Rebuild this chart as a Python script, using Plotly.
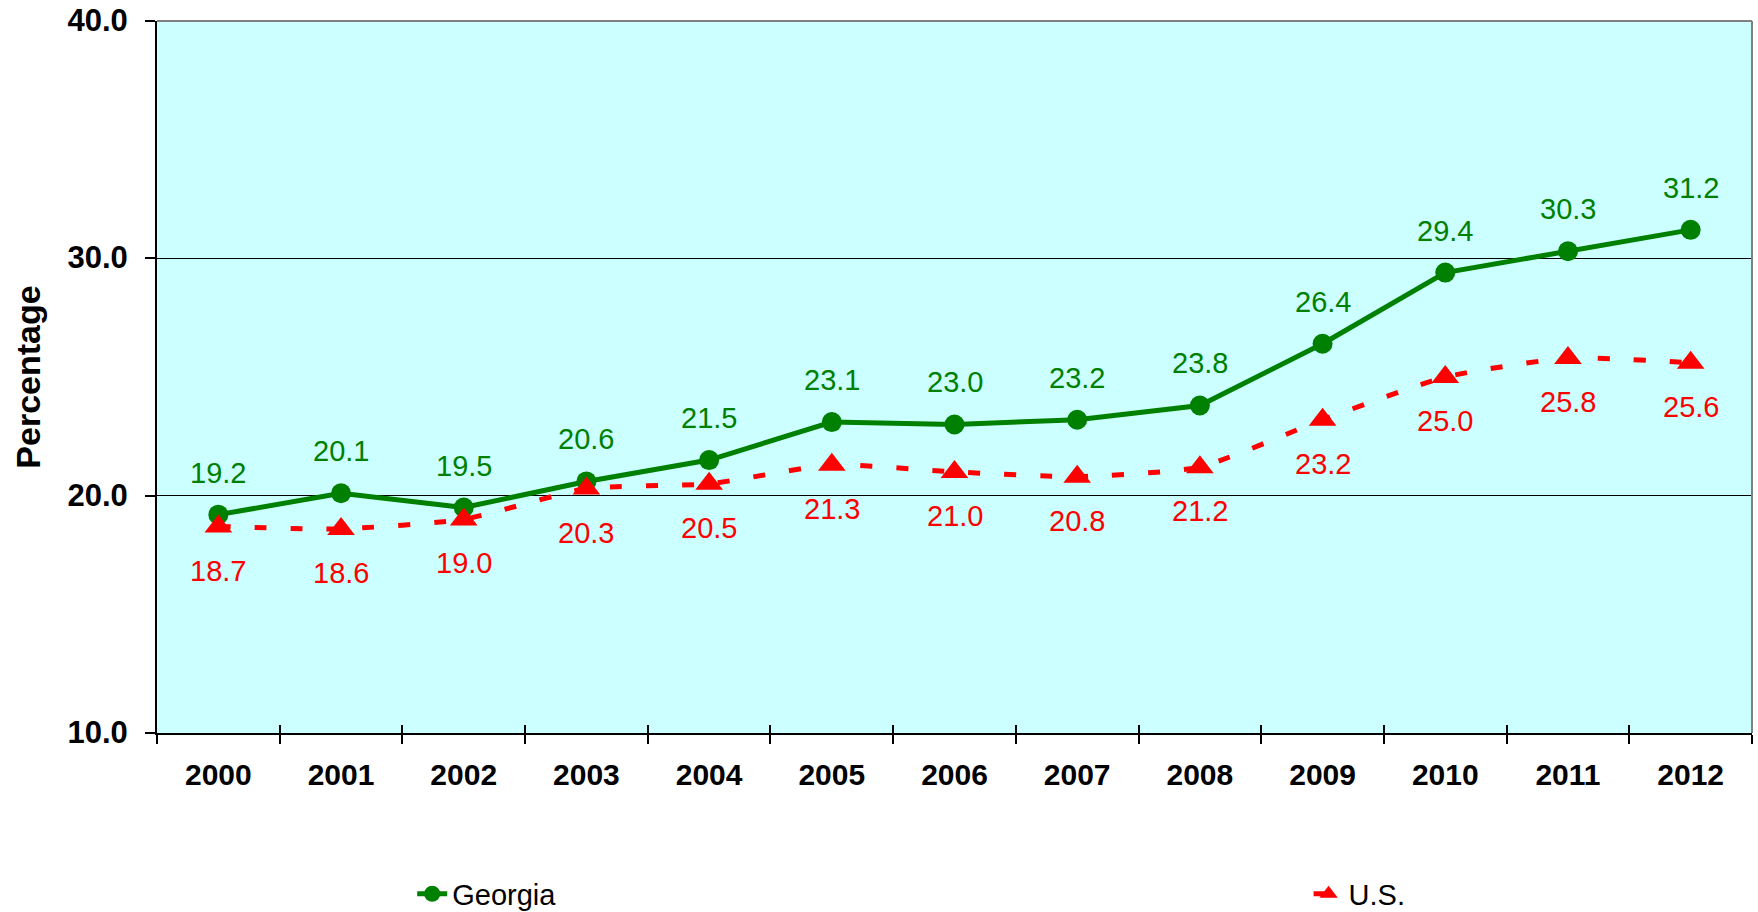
import plotly.graph_objects as go

years = [2000, 2001, 2002, 2003, 2004, 2005, 2006, 2007, 2008, 2009, 2010, 2011, 2012]
year_labels = [str(y) for y in years]
georgia = [19.2, 20.1, 19.5, 20.6, 21.5, 23.1, 23.0, 23.2, 23.8, 26.4, 29.4, 30.3, 31.2]
us = [18.7, 18.6, 19.0, 20.3, 20.5, 21.3, 21.0, 20.8, 21.2, 23.2, 25.0, 25.8, 25.6]
y_ticks = [10, 20, 30, 40]
y_tick_labels = ["10.0", "20.0", "30.0", "40.0"]

GREEN = "#008000"
RED = "#FF0000"
FONT = "Arial, Liberation Sans, sans-serif"

fig = go.Figure()
fig.add_trace(go.Scatter(
    x=years, y=georgia, name="Georgia", mode="lines+markers",
    line=dict(color=GREEN, width=5),
    marker=dict(symbol="circle", size=20, color=GREEN),
    xaxis="x", yaxis="y", legend="legend",
))
fig.add_trace(go.Scatter(
    x=years, y=us, name="U.S.", mode="lines+markers",
    line=dict(color=RED, width=5, dash="12px,24px", shape="spline", smoothing=0.5),
    marker=dict(symbol="triangle-up", size=24, color=RED),
    xaxis="x2", yaxis="y", legend="legend2",
))

annotations = []
for x, v in zip(years, georgia):
    annotations.append(dict(x=x, y=v, xref="x", yref="y", text=f"{v:.1f}",
                            showarrow=False, yshift=42, yanchor="middle",
                            font=dict(family=FONT, size=29, color=GREEN)))
for x, v in zip(years, us):
    annotations.append(dict(x=x, y=v, xref="x", yref="y", text=f"{v:.1f}",
                            showarrow=False, yshift=-44, yanchor="middle",
                            font=dict(family=FONT, size=29, color=RED)))

xrange = [years[0] - 0.5, years[-1] + 0.5]
legend_font = dict(family=FONT, size=29, color="black")

fig.update_layout(
    width=1758, height=912,
    margin=dict(l=157, r=6, t=21, b=179, autoexpand=False),
    paper_bgcolor="white",
    plot_bgcolor="#CCFFFF",
    font=dict(family=FONT, color="black"),
    showlegend=True,
    legend=dict(orientation="h", x=0.160, xanchor="left", y=-0.226, yanchor="middle",
                font=legend_font, bgcolor="rgba(0,0,0,0)"),
    legend2=dict(orientation="h", x=0.722, xanchor="left", y=-0.226, yanchor="middle",
                 font=legend_font, bgcolor="rgba(0,0,0,0)"),
    xaxis=dict(
        range=xrange, tickmode="array", tickvals=years, ticktext=year_labels,
        ticks="", showgrid=False, zeroline=False,
        showline=True, linecolor="black", linewidth=2,
        tickfont=dict(family=FONT, size=30, color="black", weight="bold"),
        ticklabelstandoff=14, ticklabeloverflow="allow",
        minor=dict(tick0=years[0] - 0.5, dtick=1, ticks="outside", ticklen=9,
                   tickwidth=1.5, tickcolor="black", showgrid=False),
    ),
    xaxis2=dict(
        range=xrange, overlaying="x", anchor="y", side="bottom",
        tickmode="linear", tick0=years[0] - 0.5, dtick=1,
        ticks="inside", ticklen=8, tickwidth=1.5, tickcolor="black",
        showticklabels=False, showgrid=False, zeroline=False, showline=False,
    ),
    yaxis=dict(
        range=[10, 40], tickmode="array", tickvals=y_ticks, ticktext=y_tick_labels,
        ticks="outside", ticklen=10, tickwidth=1.5, tickcolor="black",
        showgrid=True, gridcolor="black", gridwidth=1, zeroline=False,
        showline=True, linecolor="black", linewidth=2,
        tickfont=dict(family=FONT, size=31, color="black", weight="bold"),
        ticklabelstandoff=11, ticklabeloverflow="allow", ticklabelshift=-1,
        title=dict(text="Percentage", standoff=17,
                   font=dict(family=FONT, size=34, color="black", weight="bold")),
    ),
    annotations=annotations,
    shapes=[
        dict(type="line", xref="paper", yref="paper", x0=0, x1=1, y0=1, y1=1,
             line=dict(color="#808080", width=2), layer="above"),
        dict(type="line", xref="paper", yref="paper", x0=1, x1=1, y0=0, y1=1,
             line=dict(color="#808080", width=2), layer="above"),
    ],
)

fig.write_html("out.html", config={"displayModeBar": False},
               post_script="document.body.style.margin='0px';")
